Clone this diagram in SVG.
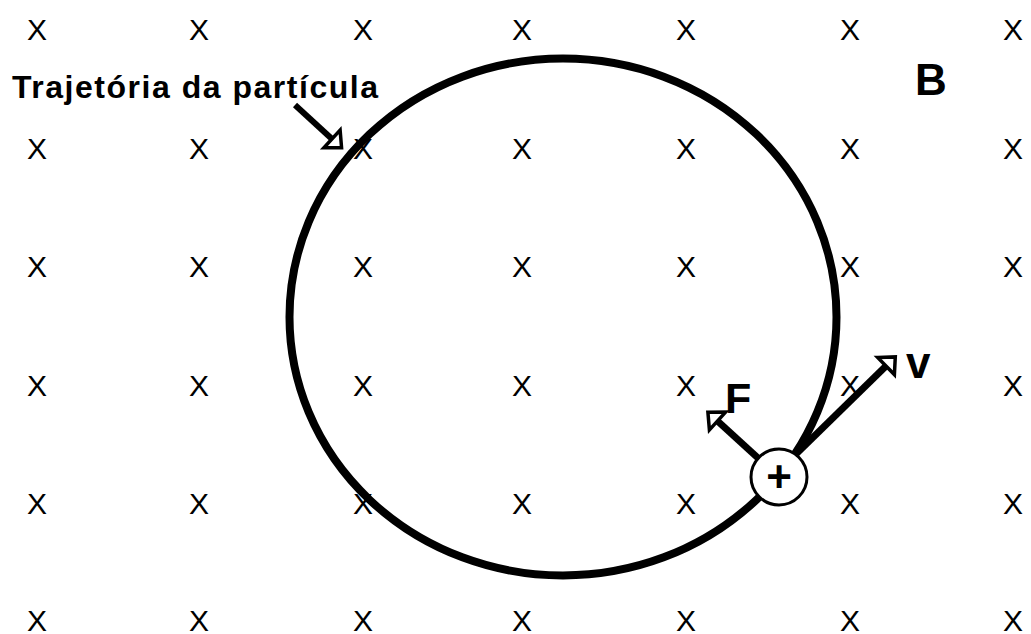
<svg xmlns="http://www.w3.org/2000/svg" width="1031" height="634" viewBox="0 0 1031 634">
<style>
.x{font-family:"Liberation Sans",Arial,sans-serif;font-size:30px;fill:#000;text-anchor:middle}
.b{font-family:"Liberation Sans",Arial,sans-serif;font-weight:bold;fill:#000}
.arr{stroke:#000;fill:none;stroke-linecap:butt}
</style>
<defs>
<marker id="head" markerUnits="userSpaceOnUse" viewBox="-4 -16 22 32" markerWidth="22" markerHeight="32" refX="0" refY="0" orient="auto" overflow="visible">
<path d="M0,-12 L13,0 L0,12 Z" fill="#fff" stroke="#000" stroke-width="3.5" stroke-linejoin="miter"/>
</marker>
</defs>
<rect width="1031" height="634" fill="#fff"/>
<g id="field">
<text class="x" x="37" y="40">X</text><text class="x" x="199" y="40">X</text><text class="x" x="363" y="40">X</text><text class="x" x="522" y="40">X</text><text class="x" x="686" y="40">X</text><text class="x" x="850" y="40">X</text><text class="x" x="1013" y="40">X</text>
<text class="x" x="37" y="159">X</text><text class="x" x="199" y="159">X</text><text class="x" x="363" y="159">X</text><text class="x" x="522" y="159">X</text><text class="x" x="686" y="159">X</text><text class="x" x="850" y="159">X</text><text class="x" x="1013" y="159">X</text>
<text class="x" x="37" y="277">X</text><text class="x" x="199" y="277">X</text><text class="x" x="363" y="277">X</text><text class="x" x="522" y="277">X</text><text class="x" x="686" y="277">X</text><text class="x" x="850" y="277">X</text><text class="x" x="1013" y="277">X</text>
<text class="x" x="37" y="396">X</text><text class="x" x="199" y="396">X</text><text class="x" x="363" y="396">X</text><text class="x" x="522" y="396">X</text><text class="x" x="686" y="396">X</text><text class="x" x="850" y="396">X</text><text class="x" x="1013" y="396">X</text>
<text class="x" x="37" y="514">X</text><text class="x" x="199" y="514">X</text><text class="x" x="363" y="514">X</text><text class="x" x="522" y="514">X</text><text class="x" x="686" y="514">X</text><text class="x" x="850" y="514">X</text><text class="x" x="1013" y="514">X</text>
<text class="x" x="37" y="631">X</text><text class="x" x="199" y="631">X</text><text class="x" x="363" y="631">X</text><text class="x" x="522" y="631">X</text><text class="x" x="686" y="631">X</text><text class="x" x="850" y="631">X</text><text class="x" x="1013" y="631">X</text>
</g>
<g id="trajectory">
<ellipse cx="563" cy="317" rx="273.5" ry="258.5" fill="none" stroke="#000" stroke-width="8"/>
</g>
<g id="connectors">
<line class="arr" x1="295" y1="105" x2="332" y2="139" stroke-width="6" marker-end="url(#head)"/>
<line class="arr" x1="758" y1="458" x2="717.5" y2="421" stroke-width="7" marker-end="url(#head)"/>
<line class="arr" x1="795" y1="455" x2="886" y2="366" stroke-width="7" marker-end="url(#head)"/>
</g>
<g id="particle">
<circle cx="779" cy="477" r="28" fill="#fff" stroke="#000" stroke-width="3"/>
<text class="b" x="779" y="492" font-size="44" text-anchor="middle">+</text>
</g>
<g id="label-trajectory">
<text class="b" x="12" y="98" font-size="32" textLength="366" lengthAdjust="spacing">Trajetória da partícula</text>
</g>
<g id="label-B"><text class="b" x="915" y="95" font-size="44">B</text></g>
<g id="label-F"><text class="b" x="725" y="413" font-size="43">F</text></g>
<g id="label-v"><text class="b" x="906" y="378" font-size="44">v</text></g>
</svg>
